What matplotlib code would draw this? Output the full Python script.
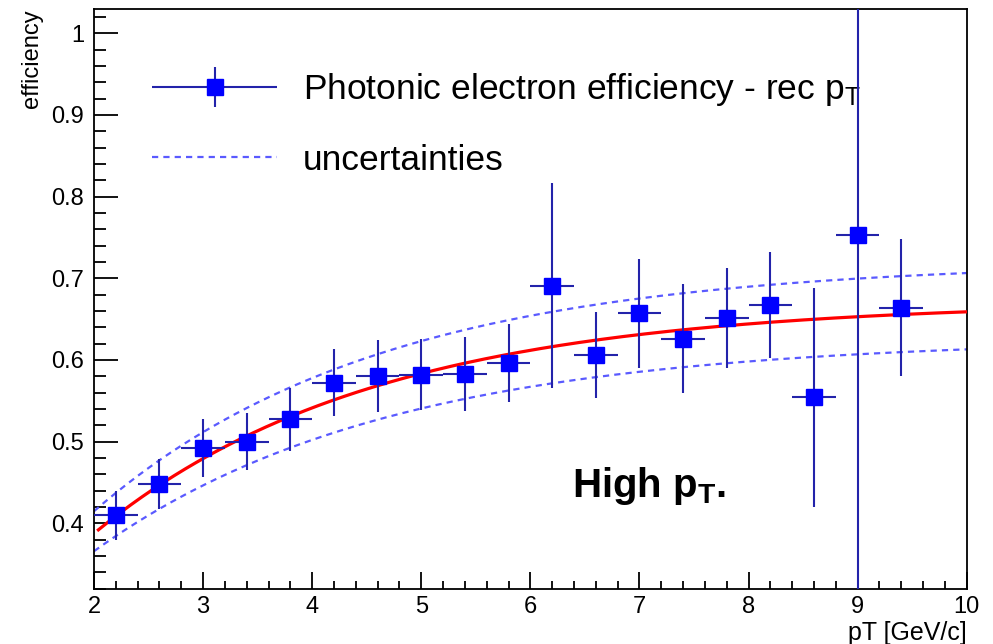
import numpy as np
import matplotlib
matplotlib.use("Agg")
import matplotlib.pyplot as plt
from matplotlib.ticker import MultipleLocator, FormatStrFormatter
from matplotlib.legend_handler import HandlerErrorbar

plt.rcParams['font.family'] = ['Liberation Sans', 'DejaVu Sans']
plt.rcParams['mathtext.fontset'] = 'custom'
plt.rcParams['mathtext.rm'] = 'Liberation Sans'
plt.rcParams['mathtext.bf'] = 'Liberation Sans:bold'

# efficiency points (bin centres, values, errors)
pt = [2.2, 2.6, 3.0, 3.4, 3.8, 4.2, 4.6, 5.0, 5.4, 5.8,
      6.2, 6.6, 7.0, 7.4, 7.8, 8.2, 8.6, 9.0, 9.4]
eff = [0.410, 0.448, 0.492, 0.500, 0.527, 0.572, 0.580, 0.582, 0.583, 0.596,
       0.691, 0.606, 0.657, 0.626, 0.651, 0.667, 0.554, 0.753, 0.664]
eff_err = [0.030, 0.031, 0.036, 0.035, 0.038, 0.041, 0.044, 0.043, 0.045, 0.048,
           0.126, 0.053, 0.067, 0.067, 0.061, 0.065, 0.134, 0.450, 0.084]
pt_err = 0.2

# fit function p0 - p1*exp(-p2*x), central and uncertainty bands
fit_par = [0.6714, 0.6194, 0.39]
upper_par = [0.721, 0.655, 0.38]
lower_par = [0.6264, 0.5464, 0.37]


def fit_func(x, p):
    return p[0] - p[1] * np.exp(-p[2] * x)


fig = plt.figure(figsize=(9.93, 6.44), dpi=100)
ax = fig.add_axes([0.0947, 0.0849, 0.8788, 0.9007])

xs = np.linspace(2.0, 10.0, 400)
xs_fit = np.linspace(2.04, 10.0, 400)
band_style = dict(color='#5a5aff', lw=1.6, ls=(0, (2.8, 2.3)))
ax.plot(xs, fit_func(xs, upper_par), **band_style, zorder=2)
band, = ax.plot(xs, fit_func(xs, lower_par), **band_style, zorder=2,
                label='uncertainties')
ax.plot(xs_fit, fit_func(xs_fit, fit_par), color='#ff0000', lw=2.3, zorder=3)

eb = ax.errorbar(pt, eff, xerr=pt_err, yerr=eff_err, fmt='s', ms=11,
                 color='#0000ff', mec='#0000ff', ecolor='#2323aa',
                 elinewidth=1.5, capsize=0, zorder=4,
                 label=r'Photonic electron efficiency - rec p$_{\mathregular{T}}$')

ax.set_xlim(2, 10)
ax.set_ylim(0.319, 1.0294)

ax.xaxis.set_major_locator(MultipleLocator(1))
ax.xaxis.set_minor_locator(MultipleLocator(0.2))
ax.yaxis.set_major_locator(MultipleLocator(0.1))
ax.yaxis.set_minor_locator(MultipleLocator(0.02))
ax.yaxis.set_major_formatter(FormatStrFormatter('%g'))

ax.tick_params(axis='both', which='both', direction='in', labelsize=17,
               width=1.3, color='black')
ax.tick_params(axis='y', which='major', length=17, pad=7)
ax.tick_params(axis='y', which='minor', length=8.5)
ax.tick_params(axis='x', which='major', length=12, pad=5)
ax.tick_params(axis='x', which='minor', length=6)
for sp in ax.spines.values():
    sp.set_linewidth(1.3)

ax.set_ylabel('efficiency', fontsize=17, loc='top', labelpad=6)
ax.set_xlabel('pT [GeV/c]', fontsize=18, loc='right', labelpad=2)

leg = ax.legend(handles=[eb, band], loc='upper left', frameon=False,
                bbox_to_anchor=(0.0665, 0.893), borderaxespad=0, borderpad=0,
                fontsize=25.5, handlelength=3.53, handletextpad=0.73,
                labelspacing=1.0,
                handler_map={eb: HandlerErrorbar(xerr_size=1.77, yerr_size=0.56)})
leg.set_zorder(1)

ax.text(6.38, 0.432, r'High p$_{\mathregular{T}}$.', fontsize=29,
        fontweight='bold', ha='left', va='baseline')

fig.savefig('out.png', dpi=100)
